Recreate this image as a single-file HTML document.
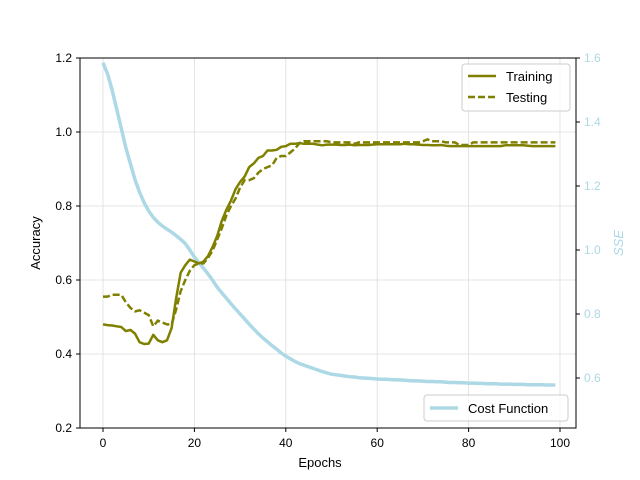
<!DOCTYPE html>
<html><head><meta charset="utf-8"><style>
body{margin:0;background:#fff}
svg{display:block;font-family:"Liberation Sans","DejaVu Sans",sans-serif}
</style></head><body>
<svg id="chart" width="640" height="480" viewBox="0 0 640 480" xmlns="http://www.w3.org/2000/svg">
<g id="grid"></g>
<g id="series"></g>
<rect x="80" y="58" width="496" height="370" fill="none" stroke="#000" stroke-width="1"/>
<g id="axes"></g>
<text x="320" y="467" font-size="13" text-anchor="middle">Epochs</text>
<text x="40" y="243" font-size="13" text-anchor="middle" transform="rotate(-90 40 243)">Accuracy</text>
<text x="623" y="243" font-size="13" font-style="italic" fill="#add8e6" text-anchor="middle" transform="rotate(-90 623 243)">SSE</text>
<g>
<rect x="462" y="64" width="108" height="47" rx="3" fill="#fff" fill-opacity="0.8" stroke="#ccc"/>
<line x1="468" y1="76" x2="496" y2="76" stroke="#808000" stroke-width="2.5"/>
<text x="506" y="81" font-size="13">Training</text>
<line x1="468" y1="97" x2="496" y2="97" stroke="#808000" stroke-width="2.5" stroke-dasharray="7,3"/>
<text x="506" y="102" font-size="13">Testing</text>
</g>
<g>
<rect x="424" y="395" width="144" height="26" rx="3" fill="#fff" fill-opacity="0.8" stroke="#ccc"/>
<line x1="430" y1="408" x2="458" y2="408" stroke="#add8e6" stroke-width="3.5"/>
<text x="468" y="413" font-size="13">Cost Function</text>
</g>
</svg>
<script>
const epochs = Array.from({length:100},(_,i)=>i);
const training = [0.48,0.478,0.477,0.475,0.473,0.462,0.465,0.455,0.432,0.427,0.428,0.452,0.437,0.432,0.437,0.47,0.55,0.62,0.64,0.655,0.65,0.645,0.65,0.665,0.69,0.72,0.76,0.79,0.815,0.845,0.865,0.88,0.905,0.915,0.93,0.935,0.95,0.95,0.952,0.96,0.962,0.968,0.968,0.97,0.968,0.968,0.968,0.966,0.964,0.966,0.966,0.966,0.965,0.965,0.966,0.964,0.965,0.965,0.965,0.966,0.967,0.967,0.967,0.967,0.967,0.967,0.968,0.967,0.967,0.966,0.965,0.965,0.964,0.964,0.965,0.963,0.962,0.962,0.962,0.962,0.962,0.962,0.962,0.962,0.962,0.962,0.962,0.962,0.964,0.964,0.964,0.964,0.964,0.963,0.962,0.962,0.962,0.962,0.962,0.962];
const testing = [0.555,0.555,0.56,0.56,0.56,0.54,0.525,0.515,0.518,0.512,0.505,0.475,0.49,0.485,0.48,0.48,0.52,0.57,0.6,0.625,0.64,0.645,0.645,0.66,0.68,0.71,0.74,0.775,0.8,0.82,0.85,0.87,0.87,0.875,0.89,0.9,0.905,0.91,0.93,0.935,0.935,0.945,0.955,0.97,0.975,0.975,0.975,0.975,0.975,0.975,0.972,0.972,0.972,0.972,0.972,0.968,0.972,0.972,0.972,0.972,0.972,0.972,0.972,0.972,0.972,0.972,0.972,0.972,0.972,0.972,0.975,0.98,0.975,0.975,0.975,0.972,0.972,0.972,0.965,0.965,0.965,0.972,0.972,0.972,0.972,0.972,0.972,0.972,0.972,0.972,0.972,0.972,0.972,0.972,0.972,0.972,0.972,0.972,0.972,0.972];
const sse = [1.585,1.55,1.50,1.44,1.38,1.32,1.27,1.22,1.18,1.148,1.122,1.102,1.087,1.075,1.065,1.056,1.045,1.033,1.02,1.0,0.978,0.96,0.943,0.925,0.905,0.883,0.866,0.849,0.832,0.816,0.80,0.784,0.768,0.753,0.738,0.725,0.713,0.701,0.69,0.678,0.668,0.66,0.652,0.645,0.64,0.635,0.63,0.625,0.62,0.616,0.612,0.61,0.608,0.606,0.604,0.603,0.601,0.6,0.599,0.598,0.597,0.596,0.596,0.595,0.594,0.594,0.593,0.592,0.591,0.591,0.59,0.589,0.589,0.588,0.588,0.587,0.586,0.586,0.585,0.585,0.584,0.584,0.583,0.583,0.582,0.582,0.582,0.581,0.581,0.581,0.58,0.58,0.58,0.579,0.579,0.579,0.579,0.578,0.578,0.578];
const xTicks = [0,20,40,60,80,100];
const yTicks = [0.2,0.4,0.6,0.8,1.0,1.2];
const y2Ticks = [0.6,0.8,1.0,1.2,1.4,1.6];

const NS="http://www.w3.org/2000/svg";
const X = v => 103 + v*4.57;
const Y = v => 428 - (v-0.2)*370;
const Y2 = v => 58 + (1.6-v)*320;
function mk(tag, attrs, parent){const e=document.createElementNS(NS,tag);for(const k in attrs)e.setAttribute(k,attrs[k]);parent.appendChild(e);return e;}
const grid=document.getElementById('grid'), axes=document.getElementById('axes'), ser=document.getElementById('series');
xTicks.forEach(t=>{
  const g=mk('line',{x1:X(t),x2:X(t),y1:58,y2:428,stroke:'#ddd','stroke-width':0.8},grid);
  
  
  const tk=mk('line',{x1:X(t),x2:X(t),y1:428,y2:432,stroke:'#000'},axes);
  
  
  const tx=mk('text',{x:X(t),y:447,'font-size':12,'text-anchor':'middle'},axes);tx.textContent=t;
  
  
});
yTicks.forEach(t=>{
  const g=mk('line',{x1:80,x2:576,y1:Y(t),y2:Y(t),stroke:'#ddd','stroke-width':0.8},grid);
  
  
  const tk=mk('line',{x1:76,x2:80,y1:Y(t),y2:Y(t),stroke:'#000'},axes);
  
  
  const tx=mk('text',{x:72,y:Y(t)+4,'font-size':12,'text-anchor':'end'},axes);tx.textContent=t.toFixed(1);
  
  
});
y2Ticks.forEach(t=>{
  const tk=mk('line',{x1:576,x2:580,y1:Y2(t),y2:Y2(t),stroke:'#000'},axes);
  
  
  const tx=mk('text',{x:584,y:Y2(t)+4,'font-size':12,fill:'#add8e6'},axes);tx.textContent=t.toFixed(1);
  
  
});
function pts(arr,fy){return arr.map((v,i)=>X(epochs[i]).toFixed(1)+','+fy(v).toFixed(1)).join(' ');}
const c=mk('polyline',{points:pts(sse,Y2),fill:'none',stroke:'#add8e6','stroke-width':3.5,'stroke-linejoin':'round'},ser);


const tr=mk('polyline',{points:pts(training,Y),fill:'none',stroke:'#808000','stroke-width':2.5,'stroke-linejoin':'round'},ser);


const te=mk('polyline',{points:pts(testing,Y),fill:'none',stroke:'#808000','stroke-width':2.5,'stroke-dasharray':'7,3'},ser);


</script>
</body></html>
